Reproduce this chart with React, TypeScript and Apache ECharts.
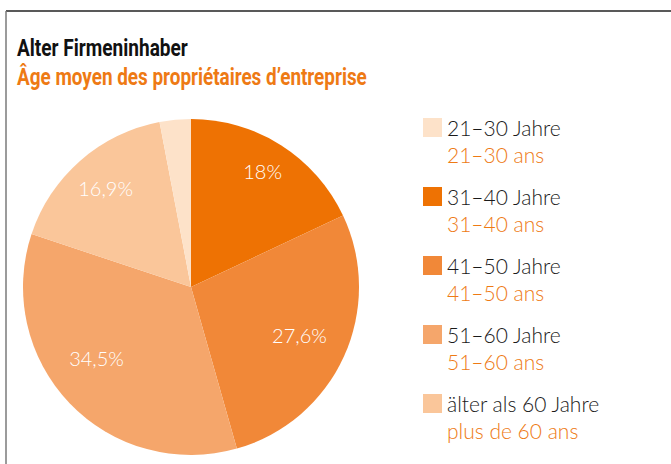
import React, { useEffect, useRef } from "react";
import * as echarts from "echarts";

const titleDe = "Alter Firmeninhaber";
const titleFr = "Âge moyen des propriétaires d’entreprise";

// slice order clockwise from 12 o'clock
const sliceNamesDe = ["31–40 Jahre", "41–50 Jahre", "51–60 Jahre", "älter als 60 Jahre", "21–30 Jahre"];
const sliceValues = [18, 27.6, 34.5, 16.9, 3.0];
const sliceColors = ["#EE7203", "#F18838", "#F5A66B", "#FAC69A", "#FDE2C9"];
const labelOffsets = [[3, -8], [-8, -5], [-2, -17], [-1, -3], [0, 0]];

// legend order
const legendDe = ["21–30 Jahre", "31–40 Jahre", "41–50 Jahre", "51–60 Jahre", "älter als 60 Jahre"];
const legendFr = ["21–30 ans", "31–40 ans", "41–50 ans", "51–60 ans", "plus de 60 ans"];

const ORANGE = "#EE7A14";
const LIGHT_FONT = "Lato, 'Open Sans', sans-serif";

function measure(text: string, font: string): number {
  const c = document.createElement("canvas").getContext("2d");
  if (!c) return 1;
  c.font = font;
  return c.measureText(text).width || 1;
}

export default function App() {
  const ref = useRef<HTMLDivElement>(null);
  useEffect(() => {
    if (!ref.current) return;
    const chart = echarts.init(ref.current, undefined, { renderer: "svg" });
    const data = sliceNamesDe.map((n, i) => ({ name: n, value: sliceValues[i], itemStyle: { color: sliceColors[i] } }));
    const frByDe: Record<string, string> = {};
    legendDe.forEach((d, i) => (frByDe[d] = legendFr[i]));
    const tFont = "bold 23px Roboto";
    const sx1 = 171 / measure(titleDe, tFont);
    const sx2 = 350 / measure(titleFr, tFont);
    chart.setOption({
      animation: false,
      backgroundColor: "#ffffff",
      legend: {
        orient: "vertical",
        left: 423,
        top: 90,
        padding: 0,
        itemWidth: 19,
        itemHeight: 19,
        itemGap: -6,
        icon: "rect",
        data: legendDe,
        selectedMode: false,
        formatter: (name: string) => `{e| }\n{a|${name}}\n{b|${frByDe[name]}}`,
        textStyle: {
          fontFamily: LIGHT_FONT,
          rich: {
            e: { fontSize: 21, lineHeight: 27, fontFamily: LIGHT_FONT },
            a: { fontSize: 21, lineHeight: 27, color: "#1a1a1a", fontFamily: LIGHT_FONT, fontWeight: 300 },
            b: { fontSize: 21, lineHeight: 27, color: ORANGE, fontFamily: LIGHT_FONT, fontWeight: 300 },
          },
        },
      },
      graphic: [
        { type: "line", shape: { x1: 6, y1: 11, x2: 671, y2: 11 }, style: { stroke: "#222222", lineWidth: 1.5 } },
        { type: "line", shape: { x1: 6, y1: 11, x2: 6, y2: 464 }, style: { stroke: "#7a7a7a", lineWidth: 1.5 } },
        {
          type: "text",
          x: 17,
          y: 48,
          scaleX: sx1,
          style: { text: titleDe, font: tFont, fill: "#111111", verticalAlign: "middle", align: "left" },
        },
        {
          type: "text",
          x: 17,
          y: 77,
          scaleX: sx2,
          style: { text: titleFr, font: tFont, fill: ORANGE, verticalAlign: "middle", align: "left" },
        },
      ],
      series: [
        {
          type: "pie",
          center: [191, 287],
          radius: [0, 168],
          startAngle: 90,
          clockwise: true,
          label: { show: false },
          labelLine: { show: false },
          emphasis: { disabled: true },
          data,
        },
        {
          type: "pie",
          center: [191, 287],
          radius: [82, 168],
          startAngle: 90,
          clockwise: true,
          silent: true,
          itemStyle: { color: "rgba(0,0,0,0)" },
          emphasis: { disabled: true },
          labelLine: { show: false },
          label: {
            show: true,
            position: "inside",
            color: "#ffffff",
            fontSize: 20,
            fontFamily: LIGHT_FONT,
            fontWeight: 300,
            formatter: (p: any) => (p.value < 5 ? "" : String(p.value).replace(".", ",") + "%"),
          },
          data: sliceNamesDe.map((n, i) => ({ name: n, value: sliceValues[i], label: { offset: labelOffsets[i] } })),
        },
      ],
    });
    return () => chart.dispose();
  }, []);
  return <div ref={ref} style={{ position: "fixed", left: 0, top: 0, width: 671, height: 464 }} />;
}
